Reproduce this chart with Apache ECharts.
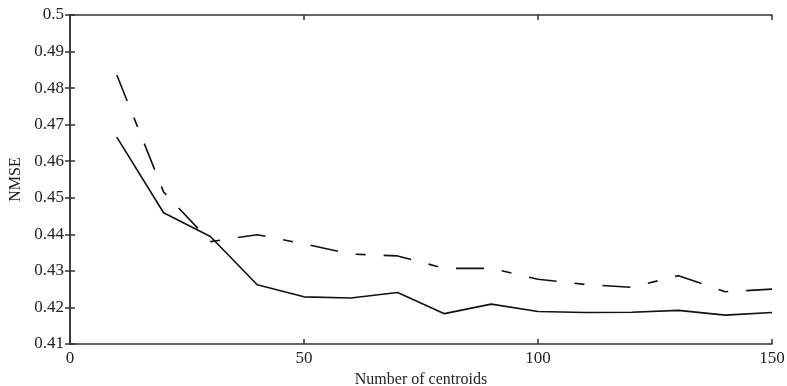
<!DOCTYPE html>
<html>
<head>
<meta charset="utf-8">
<script src="https://cdn.jsdelivr.net/npm/echarts@6/dist/echarts.min.js"></script>
<style>
  html, body { margin: 0; padding: 0; background: #fff; }
  #main { width: 787px; height: 386px; }
</style>
</head>
<body>
<div id="main"></div>
<script>
// number of centroids
var centroids = [10, 20, 30, 40, 50, 60, 70, 80, 90, 100, 110, 120, 130, 140, 150];
// solid curve
var nmseSolid = [0.4666, 0.4459, 0.4394, 0.4262, 0.4229, 0.4226, 0.4241, 0.4183, 0.4209, 0.4189, 0.4186, 0.4187, 0.4192, 0.4179, 0.4186];
// dash-dot curve
var nmseDashed = [0.4836, 0.4516, 0.4380, 0.4399, 0.4374, 0.4346, 0.4341, 0.4307, 0.4307, 0.4277, 0.4263, 0.4255, 0.4287, 0.4243, 0.4250];

var myChart = echarts.init(document.getElementById('main'));

function pairs(xs, ys) {
    return xs.map(function (x, i) { return [x, ys[i]]; });
}

var axisColor = '#333';
var font = 'Liberation Serif';

var option = {
    animation: false,
    backgroundColor: '#fff',
    grid: { left: 70, right: 15, top: 15, bottom: 42, outerBoundsMode: 'none' },
    xAxis: [
        {
            type: 'value', min: 0, max: 150, interval: 50,
            name: 'Number of centroids', nameLocation: 'middle', nameGap: 26,
            nameTextStyle: { fontFamily: font, fontSize: 16, color: '#222' },
            axisLine: { lineStyle: { color: axisColor, width: 1.5 } },
            axisTick: { inside: true, length: 5, lineStyle: { color: axisColor, width: 1.5 } },
            axisLabel: { margin: 6, fontFamily: font, fontSize: 17, color: '#222' },
            splitLine: { show: false }
        },
        {
            type: 'value', position: 'top', min: 0, max: 150, interval: 50,
            axisLine: { lineStyle: { color: axisColor, width: 1.5 } },
            axisTick: { inside: true, length: 5, lineStyle: { color: axisColor, width: 1.5 } },
            axisLabel: { show: false },
            splitLine: { show: false }
        }
    ],
    yAxis: [
        {
            type: 'value', min: 0.41, max: 0.5, interval: 0.01,
            name: 'NMSE', nameLocation: 'middle', nameGap: 41,
            nameTextStyle: { fontFamily: font, fontSize: 16, color: '#222' },
            axisLine: { lineStyle: { color: axisColor, width: 1.5 } },
            axisTick: { inside: true, length: 5, lineStyle: { color: axisColor, width: 1.5 } },
            axisLabel: { margin: 6, fontFamily: font, fontSize: 17, color: '#222' },
            splitLine: { show: false }
        },
        {
            type: 'value', position: 'right', min: 0.41, max: 0.5, interval: 0.01,
            axisLine: { show: true, lineStyle: { color: axisColor, width: 1.5 } },
            axisTick: { show: true, inside: true, length: 5, lineStyle: { color: axisColor, width: 1.5 } },
            axisLabel: { show: false },
            splitLine: { show: false }
        }
    ],
    series: [
        {
            type: 'line', name: 'solid', symbol: 'none',
            data: pairs(centroids, nmseSolid),
            lineStyle: { color: '#111', width: 1.6 }
        },
        {
            type: 'line', name: 'dashdot', symbol: 'none',
            data: pairs(centroids, nmseDashed),
            lineStyle: { color: '#111', width: 1.6, type: [28, 18, 10, 18] }
        }
    ]
};

myChart.setOption(option);
</script>
</body>
</html>
